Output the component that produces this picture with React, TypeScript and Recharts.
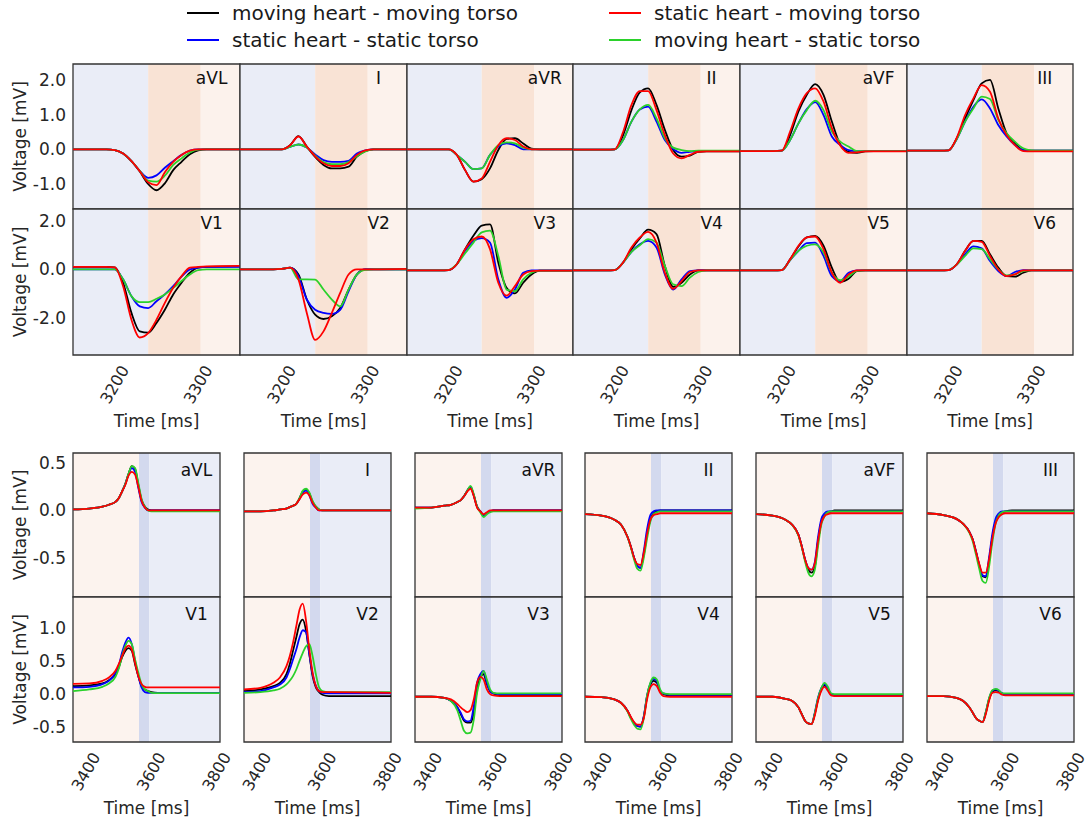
import React from 'react';
import { LineChart, Line, XAxis, YAxis, ReferenceArea } from 'recharts';

const FONT = "'DejaVu Sans', sans-serif";
const TEXT = '#262626';

// series order in every lead array: moving-moving, static-static, static-moving, moving-static
const SERIES = [
  { key: 's0', name: 'moving heart - moving torso', color: '#000000' },
  { key: 's1', name: 'static heart - static torso', color: '#0000ff' },
  { key: 's2', name: 'static heart - moving torso', color: '#ff0000' },
  { key: 's3', name: 'moving heart - static torso', color: '#2bd12b' },
];
const DRAW_ORDER = [0, 1, 3, 2];

const LEADS_1 = ['aVL', 'I', 'aVR', 'II', 'aVF', 'III'];
const LEADS_2 = ['V1', 'V2', 'V3', 'V4', 'V5', 'V6'];

// ---- upper block (QRS window) ----
const TOP_T = [3150, 3190, 3200, 3210, 3220, 3230, 3240, 3250, 3260, 3270, 3280, 3290, 3300, 3310, 3350];

const topAVL = [
  [0, 0, -0.02, -0.12, -0.34, -0.64, -1.0, -1.18, -0.98, -0.6, -0.36, -0.14, -0.03, 0, 0],
  [0, 0, -0.02, -0.12, -0.34, -0.62, -0.82, -0.75, -0.53, -0.34, -0.16, -0.04, 0, 0, 0],
  [0, 0, -0.02, -0.12, -0.34, -0.63, -0.95, -1.03, -0.66, -0.36, -0.16, -0.04, 0, 0, 0],
  [0, 0, -0.02, -0.12, -0.34, -0.62, -0.9, -0.93, -0.76, -0.45, -0.26, -0.09, -0.01, 0, 0],
];
const topI = [
  [0, 0, 0, 0.12, 0.38, 0.08, -0.22, -0.45, -0.55, -0.55, -0.5, -0.21, -0.05, 0, 0],
  [0, 0, 0, 0.07, 0.14, 0.05, -0.15, -0.31, -0.36, -0.36, -0.33, -0.12, -0.03, 0, 0],
  [0, 0, 0, 0.12, 0.37, 0.08, -0.2, -0.4, -0.48, -0.48, -0.4, -0.16, -0.03, 0, 0],
  [0, 0, 0, 0.07, 0.14, 0.05, -0.18, -0.37, -0.43, -0.43, -0.37, -0.2, -0.06, 0, 0],
];
const topAVR = [
  [0, 0, 0, -0.16, -0.6, -0.93, -0.86, -0.55, -0.02, 0.3, 0.32, 0.17, 0.02, 0, 0],
  [0, 0, 0, -0.16, -0.36, -0.57, -0.55, -0.16, 0.08, 0.17, 0.12, 0, 0, 0, 0],
  [0, 0, 0, -0.16, -0.6, -0.93, -0.84, -0.36, 0.12, 0.32, 0.27, 0.08, 0, 0, 0],
  [0, 0, 0, -0.16, -0.36, -0.57, -0.55, -0.16, 0.12, 0.2, 0.17, 0.05, 0, 0, 0],
];
const topII = [
  [-0.01, -0.01, 0, 0.41, 1.13, 1.64, 1.76, 1.28, 0.56, -0.02, -0.21, -0.18, -0.07, -0.06, -0.06],
  [-0.01, -0.01, 0, 0.27, 0.8, 1.15, 1.23, 0.8, 0.27, 0.01, -0.1, -0.07, -0.05, -0.05, -0.05],
  [-0.01, -0.01, 0, 0.5, 1.28, 1.68, 1.68, 1.13, 0.41, -0.12, -0.26, -0.16, -0.07, -0.06, -0.06],
  [-0.01, -0.01, 0, 0.27, 0.8, 1.15, 1.28, 0.89, 0.32, 0.05, -0.02, -0.05, -0.04, -0.04, -0.04],
];
const topAVF = [
  [-0.05, -0.05, -0.04, 0.41, 1.09, 1.57, 1.88, 1.57, 0.8, 0.14, -0.07, -0.1, -0.06, -0.05, -0.05],
  [-0.05, -0.05, -0.04, 0.27, 0.75, 1.16, 1.36, 0.99, 0.37, 0.13, -0.02, -0.05, -0.05, -0.05, -0.05],
  [-0.05, -0.05, -0.04, 0.51, 1.18, 1.62, 1.76, 1.38, 0.61, 0.11, -0.1, -0.09, -0.06, -0.06, -0.06],
  [-0.05, -0.05, -0.04, 0.27, 0.75, 1.13, 1.4, 1.13, 0.51, 0.22, 0.08, -0.05, -0.05, -0.05, -0.05],
];
const topIII = [
  [-0.04, -0.04, -0.03, 0.32, 0.89, 1.42, 1.9, 2.0, 1.18, 0.46, 0.17, -0.02, -0.04, -0.04, -0.04],
  [-0.04, -0.04, -0.03, 0.3, 0.8, 1.23, 1.44, 1.18, 0.7, 0.37, 0.12, -0.02, -0.04, -0.04, -0.04],
  [-0.04, -0.04, -0.03, 0.34, 0.99, 1.47, 1.85, 1.66, 0.89, 0.41, 0.12, -0.05, -0.06, -0.06, -0.06],
  [-0.04, -0.04, -0.03, 0.3, 0.8, 1.18, 1.52, 1.45, 0.85, 0.46, 0.22, 0.03, -0.03, -0.04, -0.04],
];
const topV1 = [
  [0.1, 0.1, 0.08, -0.55, -1.79, -2.55, -2.6, -2.2, -1.66, -1.03, -0.55, -0.14, 0.07, 0.1, 0.12],
  [0, 0, 0, -0.41, -1.1, -1.52, -1.59, -1.31, -1.03, -0.69, -0.3, 0, 0.07, 0.1, 0.1],
  [0.1, 0.1, 0.08, -0.69, -2.07, -2.8, -2.62, -2.07, -1.38, -0.76, -0.28, 0.07, 0.1, 0.12, 0.14],
  [0, 0, 0, -0.41, -1.1, -1.35, -1.35, -1.21, -1.03, -0.76, -0.48, -0.21, -0.03, 0, 0],
];
const topV2 = [
  [0, 0, 0.02, 0.07, -0.21, -1.24, -1.86, -2.04, -1.93, -1.59, -0.83, -0.21, 0, 0, 0],
  [0, 0, 0.02, 0.07, -0.28, -1.24, -1.66, -1.79, -1.83, -1.66, -0.9, -0.21, 0, 0, 0],
  [0, 0, 0.02, 0.07, -0.41, -1.79, -2.9, -2.55, -1.79, -0.97, -0.21, 0, 0, 0, 0.02],
  [0, 0, 0.02, 0.07, -0.41, -0.41, -0.42, -0.83, -1.24, -1.52, -0.83, -0.21, -0.02, 0, 0],
];
const topV3 = [
  [-0.04, -0.04, -0.03, 0.21, 0.83, 1.38, 1.8, 1.85, 0.28, -0.76, -0.99, -0.55, -0.21, -0.05, -0.05],
  [-0.04, -0.04, -0.03, 0.21, 0.76, 1.17, 1.28, 1.1, -0.41, -1.17, -0.83, -0.14, -0.04, -0.04, -0.04],
  [-0.04, -0.04, -0.03, 0.21, 0.83, 1.24, 1.35, 0.83, -0.55, -1.08, -0.69, -0.21, -0.07, -0.05, -0.05],
  [-0.04, -0.04, -0.03, 0.21, 0.66, 1.1, 1.52, 1.59, 0.55, -0.83, -0.9, -0.41, -0.14, -0.05, -0.05],
];
const topV4 = [
  [-0.04, -0.04, -0.03, 0.28, 0.83, 1.27, 1.63, 1.45, 0.14, -0.72, -0.55, -0.21, -0.04, -0.04, -0.04],
  [-0.04, -0.04, -0.03, 0.28, 0.72, 1.03, 1.17, 0.9, -0.21, -0.83, -0.41, -0.07, -0.04, -0.04, -0.04],
  [-0.04, -0.04, -0.03, 0.28, 0.9, 1.31, 1.54, 1.1, -0.14, -0.8, -0.48, -0.11, -0.04, -0.04, -0.04],
  [-0.04, -0.04, -0.03, 0.28, 0.72, 0.99, 1.24, 1.1, 0.14, -0.62, -0.69, -0.34, -0.11, -0.04, -0.04],
];
const topV5 = [
  [-0.04, -0.04, -0.03, 0.41, 0.94, 1.31, 1.37, 0.97, 0.07, -0.52, -0.39, -0.07, -0.04, -0.04, -0.04],
  [-0.04, -0.04, -0.03, 0.38, 0.76, 1.08, 1.1, 0.55, -0.28, -0.48, -0.14, -0.04, -0.04, -0.04, -0.04],
  [-0.04, -0.04, -0.03, 0.41, 0.97, 1.31, 1.35, 0.83, -0.14, -0.55, -0.21, -0.04, -0.04, -0.04, -0.04],
  [-0.04, -0.04, -0.03, 0.38, 0.76, 0.97, 1.03, 0.69, -0.14, -0.44, -0.3, -0.06, -0.04, -0.04, -0.04],
];
const topV6 = [
  [-0.04, -0.04, -0.03, 0.21, 0.76, 1.17, 1.17, 0.62, 0.07, -0.28, -0.3, -0.14, -0.04, -0.04, -0.04],
  [-0.04, -0.04, -0.03, 0.2, 0.62, 0.94, 0.86, 0.34, -0.07, -0.28, -0.11, -0.03, -0.04, -0.04, -0.04],
  [-0.04, -0.04, -0.03, 0.21, 0.76, 1.17, 1.13, 0.55, 0, -0.28, -0.21, -0.04, -0.04, -0.04, -0.04],
  [-0.04, -0.04, -0.03, 0.2, 0.55, 0.86, 0.83, 0.41, 0, -0.25, -0.21, -0.07, -0.04, -0.04, -0.04],
];

// ---- lower block (T wave window) ----
const BOT_T = [3360, 3410, 3450, 3470, 3490, 3500, 3510, 3520, 3530, 3540, 3550, 3560, 3570, 3580, 3590, 3600, 3620, 3810];

const botAVL = [
  [0.01, 0.02, 0.04, 0.06, 0.09, 0.13, 0.2, 0.28, 0.39, 0.47, 0.44, 0.27, 0.11, 0.04, 0.01, 0, 0, 0],
  [0.01, 0.02, 0.04, 0.06, 0.09, 0.13, 0.2, 0.28, 0.38, 0.45, 0.41, 0.24, 0.09, 0.03, 0, 0, 0, 0],
  [0.01, 0.02, 0.04, 0.06, 0.09, 0.13, 0.2, 0.27, 0.37, 0.41, 0.38, 0.25, 0.1, 0.03, 0, 0, 0, 0],
  [0.01, 0.02, 0.04, 0.06, 0.09, 0.13, 0.2, 0.28, 0.39, 0.47, 0.45, 0.29, 0.12, 0.04, 0, -0.01, -0.01, -0.01],
];
const botI = [
  [-0.01, -0.01, 0, 0.01, 0.02, 0.035, 0.05, 0.07, 0.13, 0.2, 0.22, 0.18, 0.09, 0.04, 0.01, 0, 0, 0],
  [-0.01, -0.01, 0, 0.01, 0.02, 0.035, 0.05, 0.07, 0.12, 0.19, 0.21, 0.16, 0.07, 0.03, 0, 0, 0, 0],
  [-0.01, -0.01, 0, 0.01, 0.02, 0.035, 0.05, 0.07, 0.12, 0.17, 0.19, 0.16, 0.08, 0.03, 0, 0, 0, 0],
  [-0.01, -0.01, 0, 0.01, 0.02, 0.035, 0.05, 0.07, 0.13, 0.21, 0.23, 0.19, 0.1, 0.04, 0.01, 0, 0, 0],
];
const botAVR = [
  [0.03, 0.03, 0.05, 0.06, 0.09, 0.11, 0.15, 0.21, 0.25, 0.16, 0.04, -0.01, -0.05, -0.03, -0.01, 0, 0, 0],
  [0.03, 0.03, 0.05, 0.06, 0.09, 0.11, 0.15, 0.21, 0.25, 0.16, 0.04, -0.01, -0.05, -0.03, -0.01, 0, 0, 0],
  [0.03, 0.03, 0.05, 0.06, 0.09, 0.11, 0.15, 0.2, 0.23, 0.15, 0.03, -0.01, -0.04, -0.02, 0, 0, 0, 0],
  [0.02, 0.03, 0.05, 0.06, 0.09, 0.11, 0.15, 0.21, 0.26, 0.17, 0.04, -0.02, -0.07, -0.04, -0.02, -0.01, -0.01, -0.01],
];
const botII = [
  [-0.04, -0.056, -0.1, -0.15, -0.28, -0.38, -0.5, -0.59, -0.61, -0.47, -0.26, -0.1, -0.03, -0.01, 0, 0, 0, 0],
  [-0.04, -0.056, -0.1, -0.15, -0.28, -0.38, -0.5, -0.59, -0.61, -0.43, -0.2, -0.05, -0.01, 0, 0, 0, 0, 0],
  [-0.04, -0.056, -0.1, -0.15, -0.28, -0.38, -0.5, -0.57, -0.58, -0.45, -0.25, -0.1, -0.05, -0.04, -0.03, -0.03, -0.03, -0.03],
  [-0.04, -0.056, -0.1, -0.15, -0.28, -0.39, -0.52, -0.62, -0.64, -0.5, -0.3, -0.12, -0.04, -0.02, -0.01, -0.01, -0.01, -0.01],
];
const botAVF = [
  [-0.04, -0.056, -0.1, -0.15, -0.26, -0.38, -0.52, -0.63, -0.66, -0.6, -0.33, -0.12, -0.05, -0.02, -0.01, 0, 0, 0],
  [-0.04, -0.056, -0.1, -0.15, -0.26, -0.38, -0.52, -0.61, -0.63, -0.55, -0.28, -0.09, -0.03, -0.01, -0.01, -0.01, -0.01, -0.01],
  [-0.04, -0.056, -0.1, -0.15, -0.26, -0.38, -0.52, -0.61, -0.63, -0.56, -0.32, -0.13, -0.06, -0.04, -0.03, -0.03, -0.03, -0.03],
  [-0.04, -0.056, -0.1, -0.15, -0.27, -0.39, -0.54, -0.66, -0.7, -0.63, -0.38, -0.15, -0.06, -0.02, -0.01, -0.01, -0.01, -0.01],
];
const botIII = [
  [-0.03, -0.05, -0.09, -0.14, -0.23, -0.31, -0.44, -0.58, -0.7, -0.71, -0.54, -0.29, -0.12, -0.05, -0.02, -0.01, 0, 0],
  [-0.03, -0.05, -0.09, -0.14, -0.23, -0.31, -0.44, -0.58, -0.69, -0.7, -0.5, -0.25, -0.09, -0.03, -0.01, -0.01, -0.01, -0.01],
  [-0.03, -0.05, -0.09, -0.14, -0.23, -0.31, -0.44, -0.57, -0.66, -0.66, -0.52, -0.3, -0.14, -0.07, -0.04, -0.03, -0.03, -0.03],
  [-0.03, -0.05, -0.09, -0.14, -0.24, -0.33, -0.47, -0.62, -0.75, -0.77, -0.6, -0.34, -0.14, -0.05, -0.02, -0.01, -0.01, -0.01],
];
const botV1 = [
  [0.12, 0.13, 0.16, 0.21, 0.3, 0.4, 0.55, 0.65, 0.69, 0.65, 0.45, 0.27, 0.12, 0.07, 0.045, 0.03, 0.02, 0.02],
  [0.1, 0.11, 0.15, 0.2, 0.32, 0.43, 0.62, 0.77, 0.85, 0.75, 0.5, 0.27, 0.1, 0.03, 0.02, 0.02, 0.02, 0.02],
  [0.155, 0.16, 0.2, 0.25, 0.35, 0.45, 0.57, 0.68, 0.73, 0.67, 0.47, 0.27, 0.15, 0.11, 0.1, 0.1, 0.1, 0.1],
  [0.045, 0.07, 0.11, 0.16, 0.26, 0.38, 0.57, 0.72, 0.8, 0.75, 0.52, 0.32, 0.15, 0.07, 0.045, 0.02, 0.015, 0.015],
];
const botV2 = [
  [0.045, 0.07, 0.12, 0.17, 0.3, 0.45, 0.65, 0.85, 1.05, 1.12, 0.95, 0.6, 0.27, 0.1, 0.03, -0.01, -0.03, -0.03],
  [0.03, 0.045, 0.1, 0.145, 0.25, 0.37, 0.52, 0.67, 0.85, 0.96, 0.93, 0.6, 0.3, 0.12, 0.045, 0.02, 0.01, 0.01],
  [0.07, 0.095, 0.17, 0.25, 0.42, 0.57, 0.77, 1.02, 1.27, 1.36, 1.1, 0.67, 0.32, 0.12, 0.045, 0.03, 0.03, 0.02],
  [0.02, 0.03, 0.055, 0.08, 0.145, 0.2, 0.27, 0.37, 0.5, 0.62, 0.72, 0.75, 0.57, 0.3, 0.1, 0.045, 0.03, 0.03],
];
const botV3 = [
  [-0.04, -0.04, -0.055, -0.1, -0.2, -0.3, -0.4, -0.43, -0.43, -0.28, 0.07, 0.25, 0.3, 0.15, 0.045, 0.01, -0.02, -0.02],
  [-0.04, -0.04, -0.055, -0.1, -0.2, -0.28, -0.38, -0.41, -0.4, -0.18, 0.17, 0.3, 0.35, 0.17, 0.045, 0.01, 0, 0],
  [-0.04, -0.04, -0.055, -0.08, -0.15, -0.2, -0.24, -0.27, -0.24, -0.08, 0.17, 0.26, 0.22, 0.07, 0, -0.02, -0.03, -0.03],
  [-0.04, -0.04, -0.055, -0.1, -0.25, -0.4, -0.55, -0.59, -0.58, -0.38, 0.02, 0.22, 0.35, 0.22, 0.07, 0.02, 0.01, 0.01],
];
const botV4 = [
  [-0.04, -0.045, -0.08, -0.13, -0.25, -0.35, -0.43, -0.48, -0.49, -0.34, -0.04, 0.14, 0.2, 0.17, 0.045, 0, -0.02, -0.02],
  [-0.04, -0.045, -0.08, -0.13, -0.25, -0.35, -0.43, -0.48, -0.49, -0.33, -0.02, 0.16, 0.23, 0.2, 0.045, 0.01, -0.01, -0.01],
  [-0.04, -0.045, -0.08, -0.13, -0.25, -0.34, -0.42, -0.46, -0.46, -0.36, -0.08, 0.1, 0.15, 0.12, 0.02, -0.03, -0.04, -0.04],
  [-0.04, -0.045, -0.08, -0.13, -0.26, -0.37, -0.46, -0.52, -0.53, -0.36, -0.02, 0.17, 0.25, 0.22, 0.07, 0.01, 0, 0],
];
const botV5 = [
  [-0.04, -0.04, -0.07, -0.1, -0.2, -0.3, -0.4, -0.44, -0.45, -0.3, -0.08, 0.07, 0.13, 0.07, -0.005, -0.02, -0.02, -0.02],
  [-0.04, -0.04, -0.07, -0.1, -0.2, -0.3, -0.4, -0.44, -0.45, -0.28, -0.05, 0.09, 0.15, 0.08, 0, -0.01, -0.01, -0.01],
  [-0.04, -0.04, -0.07, -0.1, -0.2, -0.3, -0.4, -0.44, -0.45, -0.32, -0.1, 0.05, 0.11, 0.05, -0.02, -0.03, -0.03, -0.03],
  [-0.04, -0.04, -0.07, -0.1, -0.2, -0.3, -0.4, -0.44, -0.45, -0.29, -0.06, 0.09, 0.17, 0.11, 0.01, 0, 0, 0],
];
const botV6 = [
  [-0.03, -0.03, -0.055, -0.1, -0.2, -0.28, -0.36, -0.4, -0.42, -0.28, -0.08, 0.03, 0.055, 0.045, 0.01, -0.01, -0.01, -0.01],
  [-0.03, -0.03, -0.055, -0.1, -0.2, -0.28, -0.36, -0.4, -0.42, -0.27, -0.07, 0.05, 0.07, 0.05, 0.01, 0, 0, 0],
  [-0.03, -0.03, -0.055, -0.1, -0.2, -0.28, -0.36, -0.4, -0.42, -0.3, -0.1, 0.02, 0.03, 0.02, -0.01, -0.02, -0.02, -0.02],
  [-0.03, -0.03, -0.055, -0.1, -0.2, -0.28, -0.36, -0.4, -0.42, -0.27, -0.06, 0.06, 0.08, 0.06, 0.01, 0.01, 0.01, 0.01],
];

const TOP_CURVES: Record<string, number[][]> = {
  aVL: topAVL, I: topI, aVR: topAVR, II: topII, aVF: topAVF, III: topIII,
  V1: topV1, V2: topV2, V3: topV3, V4: topV4, V5: topV5, V6: topV6,
};
const BOT_CURVES: Record<string, number[][]> = {
  aVL: botAVL, I: botI, aVR: botAVR, II: botII, aVF: botAVF, III: botIII,
  V1: botV1, V2: botV2, V3: botV3, V4: botV4, V5: botV5, V6: botV6,
};

const TOP_TICKS_X = [3200, 3300];
const BOT_TICKS_X = [3400, 3600, 3800];

const TOP_GRID = {
  times: TOP_T,
  curves: TOP_CURVES,
  xDomain: [3150, 3350],
  xTicks: TOP_TICKS_X,
  bands: [
    { x1: 3150, x2: 3240, fill: '#eaedf7' },
    { x1: 3240, x2: 3303, fill: '#f9e3d5' },
    { x1: 3303, x2: 3350, fill: '#fcf2ec' },
  ],
  edges: [73, 240, 407, 573, 740, 907, 1073],
  rows: [
    { top: 64, height: 145, domain: [-1.72, 2.46], ticks: [-1, 0, 1, 2], leads: LEADS_1 },
    { top: 209, height: 146, domain: [-3.52, 2.48], ticks: [-2, 0, 2], leads: LEADS_2 },
  ],
  labelFrac: 0.83,
  labelDy: 20,
};

const BOT_GRID = {
  times: BOT_T,
  curves: BOT_CURVES,
  xDomain: [3360, 3810],
  xTicks: BOT_TICKS_X,
  bands: [
    { x1: 3360, x2: 3562, fill: '#fcf3ee' },
    { x1: 3562, x2: 3593, fill: '#d3d9ee' },
    { x1: 3593, x2: 3810, fill: '#eaedf7' },
  ],
  edges: [73, 244, 415, 585, 756, 927],
  width: 147,
  rows: [
    { top: 453, height: 144, domain: [-0.92, 0.61], ticks: [-0.5, 0, 0.5], leads: LEADS_1 },
    { top: 597, height: 145, domain: [-0.72, 1.46], ticks: [-0.5, 0, 0.5, 1.0], leads: LEADS_2 },
  ],
  labelFrac: 0.84,
  labelDy: 23,
};

const Y_AXIS_W = 60;
const X_AXIS_H = 80;

const RotTick = (props: any) => {
  const { x, y, payload } = props;
  return (
    <text
      transform={`translate(${x + 10},${y + 12}) rotate(-60)`}
      textAnchor="end"
      dominantBaseline="central"
      fontSize={16}
      fill={TEXT}
      fontFamily={FONT}
    >
      {payload.value}
    </text>
  );
};

function Panel(props: any) {
  const { lead, curves, times, xDomain, xTicks, bands, left, top, width, height, yDomain, yTicks, showY, showX, labelFrac, labelDy } = props;
  const data = times.map((t: number, i: number) => ({
    t,
    s0: curves[0][i],
    s1: curves[1][i],
    s2: curves[2][i],
    s3: curves[3][i],
  }));
  const yw = showY ? Y_AXIS_W : 0;
  const xh = showX ? X_AXIS_H : 0;
  return (
    <div style={{ position: 'absolute', left: left - yw, top }}>
      <LineChart width={width + yw} height={height + xh} data={data} margin={{ top: 0, right: 0, bottom: 0, left: 0 }}>
        <XAxis
          dataKey="t"
          type="number"
          domain={xDomain}
          ticks={xTicks}
          allowDataOverflow
          hide={!showX}
          height={X_AXIS_H}
          axisLine={false}
          tickLine={false}
          tickSize={0}
          tickMargin={0}
          interval={0}
          tick={<RotTick />}
          label={{
            content: (p: any) => {
              const vb = p.viewBox;
              return (
                <text x={vb.x + vb.width / 2} y={vb.y + 66} textAnchor="middle" dominantBaseline="central" fontSize={17} fill={TEXT} fontFamily={FONT}>
                  Time [ms]
                </text>
              );
            },
          }}
        />
        <YAxis
          type="number"
          domain={yDomain}
          ticks={yTicks}
          allowDataOverflow
          hide={!showY}
          width={Y_AXIS_W}
          axisLine={false}
          tickLine={false}
          tickSize={0}
          tickMargin={7}
          interval={0}
          tick={{ fontSize: 17, fill: TEXT, fontFamily: FONT }}
          tickFormatter={(v: number) => v.toFixed(1)}
          label={{
            content: (p: any) => {
              const vb = p.viewBox;
              const cx = vb.x + 7;
              const cy = vb.y + vb.height / 2;
              return (
                <text transform={`translate(${cx},${cy}) rotate(-90)`} textAnchor="middle" dominantBaseline="central" fontSize={17} fill={TEXT} fontFamily={FONT}>
                  Voltage [mV]
                </text>
              );
            },
          }}
        />
        {bands.map((b: any) => (
          <ReferenceArea key={b.x1} x1={b.x1} x2={b.x2} fill={b.fill} fillOpacity={1} stroke="none" />
        ))}
        {DRAW_ORDER.map((i) => (
          <Line
            key={SERIES[i].key}
            type="monotone"
            dataKey={SERIES[i].key}
            name={SERIES[i].name}
            stroke={SERIES[i].color}
            strokeWidth={1.8}
            dot={false}
            isAnimationActive={false}
          />
        ))}
        <ReferenceArea
          x1={xDomain[0]}
          x2={xDomain[1]}
          fill="none"
          stroke="#333333"
          strokeWidth={1.3}
          label={{
            content: (p: any) => {
              const vb = p.viewBox;
              return (
                <text x={vb.x + vb.width * labelFrac} y={vb.y + labelDy} textAnchor="middle" fontSize={17} fill="#111" fontFamily={FONT}>
                  {lead}
                </text>
              );
            },
          }}
        />
      </LineChart>
    </div>
  );
}

function Grid({ cfg }: { cfg: any }) {
  const panels: any[] = [];
  cfg.rows.forEach((row: any, r: number) => {
    row.leads.forEach((lead: string, c: number) => {
      const left = cfg.edges[c];
      const width = cfg.width ?? cfg.edges[c + 1] - cfg.edges[c];
      panels.push(
        <Panel
          key={`${r}-${lead}`}
          lead={lead}
          curves={cfg.curves[lead]}
          times={cfg.times}
          xDomain={cfg.xDomain}
          xTicks={cfg.xTicks}
          bands={cfg.bands}
          left={left}
          top={row.top}
          width={width}
          height={row.height}
          yDomain={row.domain}
          yTicks={row.ticks}
          showY={c === 0}
          showX={r === cfg.rows.length - 1}
          labelFrac={cfg.labelFrac}
          labelDy={cfg.labelDy}
        />
      );
    });
  });
  return <>{panels}</>;
}

function Legend() {
  const cols = [
    { x: 187, items: [SERIES[0], SERIES[1]] },
    { x: 609, items: [SERIES[2], SERIES[3]] },
  ];
  return (
    <svg width={1092} height={56} style={{ position: 'absolute', left: 0, top: 0 }}>
      {cols.map((col) =>
        col.items.map((s, j) => {
          const y = 13 + j * 27;
          return (
            <g key={s.key}>
              <line x1={col.x} x2={col.x + 32} y1={y} y2={y} stroke={s.color} strokeWidth={2} />
              <text x={col.x + 45} y={y} dominantBaseline="central" fontSize={20} fill="#1a1a1a" fontFamily={FONT}>
                {s.name}
              </text>
            </g>
          );
        })
      )}
    </svg>
  );
}

export default function App() {
  return (
    <div style={{ position: 'absolute', left: 0, top: 0, width: 1092, height: 825, background: '#ffffff', fontFamily: FONT }}>
      <style>{`.recharts-surface { overflow: visible; } .recharts-wrapper { overflow: visible; }`}</style>
      <Legend />
      <Grid cfg={TOP_GRID} />
      <Grid cfg={BOT_GRID} />
    </div>
  );
}
